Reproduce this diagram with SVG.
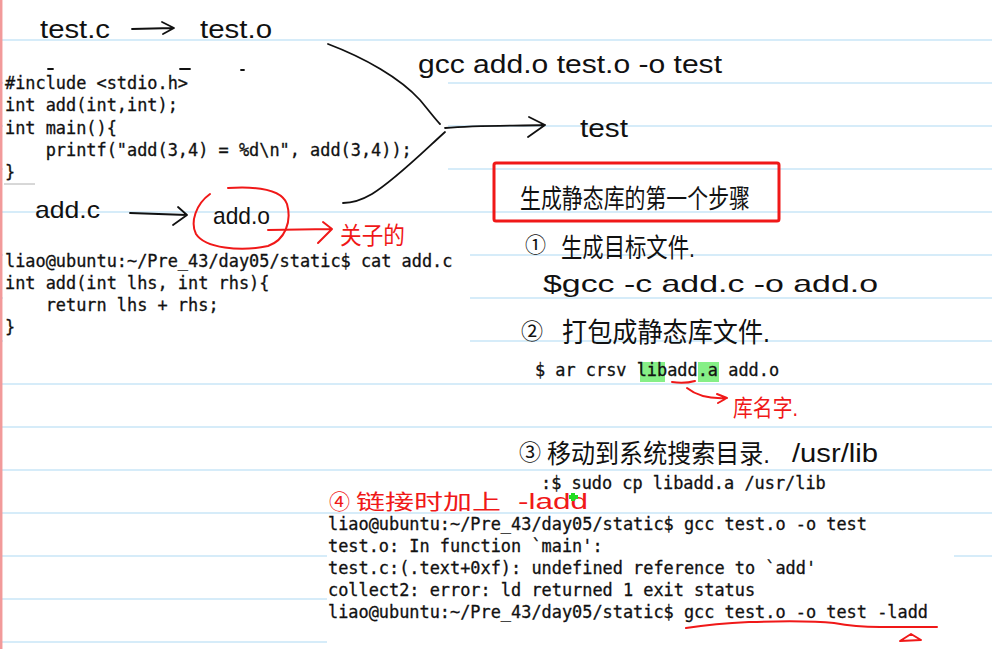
<svg xmlns="http://www.w3.org/2000/svg" width="992" height="649" viewBox="0 0 992 649">
<style>
.rule{stroke:#c9e6f7;stroke-width:1.5}
.patch{fill:#ffffff}
.mono{font-family:"DejaVu Sans Mono","Liberation Mono",monospace;font-size:16.9px;fill:#111;stroke:#111;stroke-width:0.3}
.hand{font-family:"Liberation Sans","DejaVu Sans",sans-serif;fill:#111}
.cjk{font-family:"Liberation Sans","Noto Sans CJK SC",sans-serif;fill:#111}
.red{fill:#f01818}
.ink{fill:none;stroke:#111;stroke-width:1.8;stroke-linecap:round;stroke-linejoin:round}
.rink{fill:none;stroke:#f01818;stroke-width:2;stroke-linecap:round;stroke-linejoin:round}
.hl{fill:#86ef86}
</style>
<rect width="992" height="649" fill="#ffffff"/>
<g id="background">
<g id="rules">
<line class="rule" x1="0" y1="40" x2="992" y2="40"/>
<line class="rule" x1="0" y1="83" x2="992" y2="83"/>
<line class="rule" x1="0" y1="126" x2="992" y2="126"/>
<line class="rule" x1="0" y1="169" x2="992" y2="169"/>
<line class="rule" x1="0" y1="212" x2="992" y2="212"/>
<line class="rule" x1="0" y1="255" x2="992" y2="255"/>
<line class="rule" x1="0" y1="298" x2="992" y2="298"/>
<line class="rule" x1="0" y1="341" x2="992" y2="341"/>
<line class="rule" x1="0" y1="384" x2="992" y2="384"/>
<line class="rule" x1="0" y1="427" x2="992" y2="427"/>
<line class="rule" x1="0" y1="470" x2="992" y2="470"/>
<line class="rule" x1="0" y1="513" x2="992" y2="513"/>
<line class="rule" x1="0" y1="556" x2="992" y2="556"/>
<line class="rule" x1="0" y1="599" x2="992" y2="599"/>
<line class="rule" x1="0" y1="642" x2="992" y2="642"/>
</g>
<rect class="patch" x="3" y="48" width="445" height="138"/>
<line x1="4" y1="184" x2="35" y2="184" stroke="#b0b0b0" stroke-width="1"/>
<rect class="patch" x="3" y="243" width="467" height="102"/>
<rect class="patch" x="543" y="472" width="300" height="25"/>
<rect class="patch" x="327" y="515" width="627" height="86"/>
<rect class="patch" x="327" y="597" width="665" height="52"/>
<line x1="1.2" y1="0" x2="1.2" y2="649" stroke="#f29a9a" stroke-width="2.5"/>
</g>

<g id="code-test-c">
<text class="mono" x="5" y="89">#include &lt;stdio.h&gt;</text>
<text class="mono" x="5" y="111">int add(int,int);</text>
<text class="mono" x="5" y="134">int main(){</text>
<text class="mono" x="5" y="156" xml:space="preserve">    printf("add(3,4) = %d\n", add(3,4));</text>
<text class="mono" x="5" y="178">}</text>
<line class="ink" x1="48" y1="69" x2="53" y2="69"/>
<line class="ink" x1="180" y1="69" x2="190" y2="69"/>
<line class="ink" x1="241" y1="70" x2="244" y2="70"/>
</g>

<g id="code-add-c">
<text class="mono" x="5" y="267">liao@ubuntu:~/Pre_43/day05/static$ cat add.c</text>
<text class="mono" x="5" y="289">int add(int lhs, int rhs){</text>
<text class="mono" x="5" y="311" xml:space="preserve">    return lhs + rhs;</text>
<text class="mono" x="5" y="333">}</text>
</g>

<g id="node-test-c"><text class="hand" x="40" y="38" font-size="26" textLength="70" lengthAdjust="spacingAndGlyphs">test.c</text></g>
<g id="node-test-o"><text class="hand" x="200" y="38" font-size="26" textLength="72" lengthAdjust="spacingAndGlyphs">test.o</text></g>
<g id="node-gcc-link"><text class="hand" x="418" y="73" font-size="26" textLength="304" lengthAdjust="spacingAndGlyphs">gcc add.o test.o -o test</text></g>
<g id="node-test"><text class="hand" x="580" y="137" font-size="26" textLength="48" lengthAdjust="spacingAndGlyphs">test</text></g>
<g id="node-add-c"><text class="hand" x="35" y="218" font-size="24" textLength="65" lengthAdjust="spacingAndGlyphs">add.c</text></g>
<g id="node-add-o">
<text class="hand" x="213" y="224" font-size="24" textLength="57" lengthAdjust="spacingAndGlyphs">add.o</text>
<path class="rink" d="M210,194 C196,204 190,222 196,234 C205,248 240,252 268,246 C285,240 292,222 287,204 C282,190 260,186 228,188"/>
</g>
<g id="node-note-red"><text class="cjk red" x="340" y="244" font-size="24" textLength="65" lengthAdjust="spacingAndGlyphs">关子的</text></g>

<g id="node-title">
<rect x="494" y="163" width="285" height="58" rx="2" fill="none" stroke="#f01818" stroke-width="3"/>
<text class="cjk" x="520" y="208" font-size="26" textLength="230" lengthAdjust="spacingAndGlyphs">生成静态库的第一个步骤</text>
</g>
<g id="node-step1">
<text class="cjk" x="525" y="252" font-size="21">①</text>
<text class="cjk" x="561" y="257" font-size="26" textLength="134" lengthAdjust="spacingAndGlyphs">生成目标文件.</text>
<text class="hand" x="543" y="292" font-size="24" textLength="335" lengthAdjust="spacingAndGlyphs">$gcc -c add.c -o add.o</text>
</g>
<g id="node-step2">
<text class="cjk" x="521" y="339" font-size="22">②</text>
<text class="cjk" x="562" y="342" font-size="27" textLength="208" lengthAdjust="spacingAndGlyphs">打包成静态库文件.</text>
<rect class="hl" x="640" y="362" width="25" height="20"/>
<rect class="hl" x="698" y="362" width="21" height="20"/>
<text class="mono" x="535" y="376">$ ar crsv libadd.a add.o</text>
<path class="rink" d="M672,382 Q684,384 695,381"/>
<text class="cjk red" x="733" y="416" font-size="23" textLength="65" lengthAdjust="spacingAndGlyphs">库名字.</text>
</g>
<g id="node-step3">
<text class="cjk" x="519" y="460" font-size="22">③</text>
<text class="cjk" x="547" y="463" font-size="26" textLength="223" lengthAdjust="spacingAndGlyphs">移动到系统搜索目录.</text>
<text class="hand" x="792" y="462" font-size="26" textLength="86" lengthAdjust="spacingAndGlyphs">/usr/lib</text>
<text class="mono" x="541" y="489">:$ sudo cp libadd.a /usr/lib</text>
</g>
<g id="node-step4">
<text class="cjk red" x="329" y="509" font-size="21">④</text>
<text class="cjk red" x="356" y="509" font-size="21" textLength="145" lengthAdjust="spacingAndGlyphs">链接时加上</text>
<text class="hand red" x="518" y="509" font-size="22" textLength="70" lengthAdjust="spacingAndGlyphs">-ladd</text>
<rect x="569" y="495" width="9" height="4" fill="#22dd22"/>
<rect x="571" y="493" width="4" height="8" fill="#22dd22"/>
</g>
<g id="terminal">
<text class="mono" x="328" y="530">liao@ubuntu:~/Pre_43/day05/static$ gcc test.o -o test</text>
<text class="mono" x="328" y="552">test.o: In function `main':</text>
<text class="mono" x="328" y="574">test.c:(.text+0xf): undefined reference to `add'</text>
<text class="mono" x="328" y="596">collect2: error: ld returned 1 exit status</text>
<text class="mono" x="328" y="618">liao@ubuntu:~/Pre_43/day05/static$ gcc test.o -o test -ladd</text>
<path class="rink" d="M686,628 C705,625 725,623 749,622 C785,621 815,621 834,623 C850,626 862,627 880,627 L937,627" stroke-width="2.5"/>
<path class="rink" d="M900,641 L911,634 L921,640 Z" stroke-width="2.8"/>
</g>

<g id="connectors">
<path class="ink" d="M132,29 L173,28 M162,22 L174,28 L163,34"/>
<path class="ink" d="M328,44 C365,58 400,78 420,100 C430,112 436,120 440,124"/>
<path class="ink" d="M445,132 C425,150 395,180 372,194 C360,201 350,203 343,203"/>
<path class="ink" d="M445,128 C480,125 515,126 545,125 M529,117 L545,125 L528,137"/>
<path class="ink" d="M130,213 L187,215 M178,207 L187,215 L173,225"/>
<path class="rink" d="M268,230 L331,229 M323,222 L332,229 L318,243"/>
<path class="rink" d="M687,388 C697,396 710,399 727,398 M717,394 L727,398 L718,403"/>
</g>
</svg>
